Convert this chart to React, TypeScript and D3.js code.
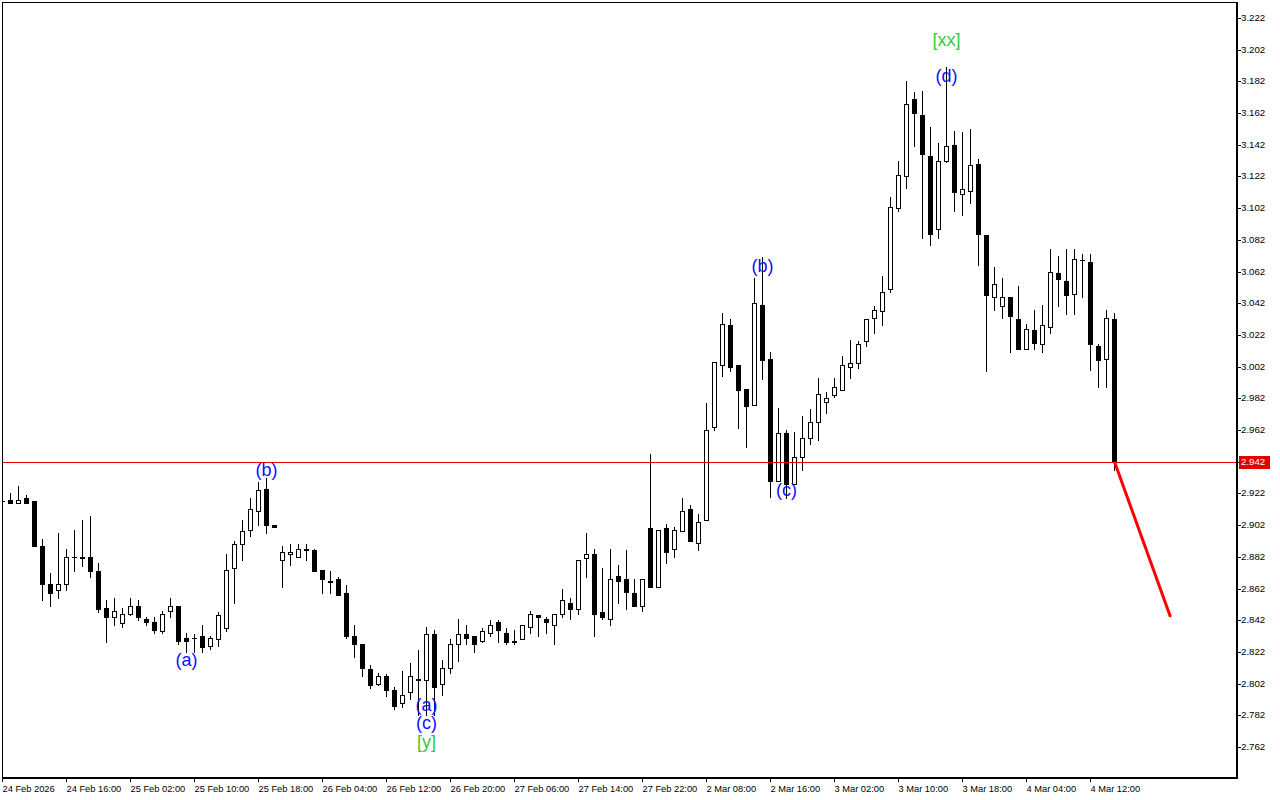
import React from "react";
import * as d3 from "d3";

const opens = [2.917,2.918,2.916,2.919,2.917,2.889,2.865,2.861,2.865,2.882,2.882,2.882,2.873,2.850,2.844,2.840,2.846,2.851,2.843,2.841,2.835,2.848,2.851,2.831,2.831,2.832,2.826,2.830,2.837,2.875,2.890,2.899,2.911,2.925,2.902,2.880,2.884,2.882,2.887,2.886,2.874,2.867,2.868,2.859,2.832,2.827,2.811,2.802,2.807,2.798,2.790,2.797,2.805,2.804,2.833,2.802,2.812,2.827,2.833,2.832,2.829,2.834,2.841,2.834,2.829,2.830,2.838,2.845,2.843,2.839,2.846,2.853,2.849,2.881,2.884,2.847,2.843,2.870,2.868,2.859,2.851,2.900,2.863,2.900,2.887,2.898,2.912,2.891,2.905,2.964,3.003,3.028,3.003,2.988,2.978,3.041,3.007,2.930,2.960,2.928,2.945,2.957,2.967,2.980,2.984,2.987,3.002,3.004,3.018,3.033,3.037,3.051,3.102,3.122,3.171,3.161,3.135,3.089,3.132,3.142,3.111,3.113,3.130,3.085,3.046,3.040,3.046,3.032,3.013,3.025,3.016,3.027,3.061,3.056,3.048,3.069,3.068,3.015,3.007,3.032];
const highs = [2.918,2.922,2.927,2.921,2.917,2.893,2.872,2.897,2.887,2.899,2.905,2.908,2.878,2.855,2.856,2.850,2.856,2.855,2.844,2.844,2.848,2.856,2.851,2.834,2.833,2.839,2.832,2.847,2.884,2.892,2.905,2.919,2.929,2.932,2.902,2.889,2.890,2.890,2.890,2.887,2.874,2.873,2.869,2.864,2.839,2.827,2.814,2.809,2.808,2.800,2.810,2.815,2.823,2.838,2.836,2.817,2.830,2.843,2.839,2.832,2.837,2.842,2.842,2.837,2.836,2.839,2.848,2.845,2.844,2.846,2.862,2.856,2.880,2.897,2.887,2.875,2.887,2.877,2.886,2.868,2.868,2.947,2.899,2.903,2.901,2.919,2.915,2.909,2.979,3.005,3.036,3.032,3.003,2.988,3.058,3.071,3.011,2.976,2.962,2.961,2.971,2.975,2.995,2.986,2.995,3.009,3.019,3.018,3.032,3.040,3.059,3.109,3.132,3.182,3.175,3.176,3.153,3.143,3.191,3.151,3.150,3.152,3.133,3.085,3.065,3.058,3.046,3.053,3.029,3.038,3.041,3.076,3.072,3.076,3.076,3.073,3.073,3.016,3.038,3.036];
const lows = [2.916,2.916,2.916,2.916,2.889,2.855,2.851,2.856,2.861,2.873,2.876,2.869,2.847,2.828,2.839,2.838,2.845,2.842,2.839,2.834,2.834,2.844,2.827,2.822,2.822,2.822,2.824,2.826,2.835,2.853,2.880,2.895,2.902,2.897,2.901,2.863,2.877,2.882,2.880,2.873,2.859,2.859,2.858,2.831,2.819,2.807,2.799,2.801,2.794,2.786,2.787,2.792,2.782,2.782,2.782,2.795,2.809,2.816,2.827,2.822,2.828,2.832,2.828,2.827,2.827,2.830,2.834,2.832,2.834,2.827,2.844,2.843,2.846,2.869,2.832,2.843,2.839,2.853,2.849,2.851,2.848,2.863,2.863,2.878,2.882,2.898,2.892,2.886,2.905,2.962,2.996,2.999,2.963,2.951,2.978,2.994,2.920,2.930,2.919,2.928,2.937,2.953,2.956,2.973,2.983,2.987,2.995,3.001,3.015,3.023,3.028,3.049,3.100,3.115,3.141,3.083,3.079,3.083,3.131,3.100,3.098,3.105,3.066,2.999,3.038,3.033,3.011,3.013,3.013,3.013,3.011,3.023,3.040,3.035,3.035,3.046,3.000,2.989,2.989,2.937];
const closes = [2.917,2.916,2.918,2.916,2.889,2.865,2.859,2.865,2.882,2.882,2.881,2.873,2.849,2.844,2.848,2.846,2.851,2.844,2.841,2.836,2.846,2.851,2.829,2.829,2.831,2.825,2.831,2.845,2.874,2.890,2.898,2.912,2.924,2.902,2.901,2.885,2.885,2.887,2.886,2.873,2.868,2.866,2.858,2.832,2.827,2.812,2.801,2.807,2.798,2.788,2.795,2.807,2.804,2.833,2.800,2.812,2.827,2.833,2.831,2.827,2.835,2.839,2.836,2.828,2.828,2.839,2.846,2.844,2.841,2.846,2.855,2.849,2.880,2.884,2.846,2.844,2.868,2.867,2.860,2.851,2.868,2.863,2.899,2.885,2.899,2.911,2.892,2.904,2.962,3.005,3.029,3.002,2.987,2.977,3.042,3.006,2.930,2.960,2.928,2.945,2.957,2.967,2.985,2.982,2.989,3.003,3.004,3.016,3.032,3.038,3.049,3.103,3.123,3.168,3.162,3.136,3.086,3.132,3.141,3.112,3.114,3.129,3.086,3.047,3.054,3.046,3.034,3.013,3.026,3.017,3.028,3.062,3.057,3.047,3.070,3.069,3.016,3.006,3.033,2.942];

const timeLabelBars = [0, 8, 16, 24, 32, 40, 48, 56, 64, 72, 80, 88, 96, 104, 112, 120, 128, 136];
const timeLabels = ["24 Feb 2026", "24 Feb 16:00", "25 Feb 02:00", "25 Feb 10:00", "25 Feb 18:00", "26 Feb 04:00", "26 Feb 12:00", "26 Feb 20:00", "27 Feb 06:00", "27 Feb 14:00", "27 Feb 22:00", "2 Mar 08:00", "2 Mar 16:00", "3 Mar 02:00", "3 Mar 10:00", "3 Mar 18:00", "4 Mar 04:00", "4 Mar 12:00"];
const priceTickLabels = ["2.762", "2.782", "2.802", "2.822", "2.842", "2.862", "2.882", "2.902", "2.922", "2.942", "2.962", "2.982", "3.002", "3.022", "3.042", "3.062", "3.082", "3.102", "3.122", "3.142", "3.162", "3.182", "3.202", "3.222"];

const lastPrice = 2.942;
const projectionBars = [139, 146];
const projectionPrices = [2.942, 2.844];

const waveTexts = ["(a)", "(b)", "(a)", "(c)", "[y]", "(b)", "(c)", "(d)", "[xx]"];
const waveBars = [23, 33, 53, 53, 53, 95, 98, 118, 118];
const wavePrices = [2.8169, 2.9368, 2.7885, 2.7771, 2.7652, 3.0655, 2.9241, 3.1853, 3.2081];

export default function App() {
  const W = 1280, H = 800;
  const L = 2, T = 2, R = 1237, B = 778;
  const x = d3.scaleLinear().domain([0, 139]).range([2.5, 1114.5]);
  const y = d3.scaleLinear().domain([2.762, 3.222]).range([747, 18]);
  const axisFont = "'Liberation Sans', Arial, sans-serif";

  const candles = opens.map((o, i) => {
    const c = closes[i], h = highs[i], l = lows[i];
    const cx = x(i);
    const yh = Math.round(y(h)), yl = Math.round(y(l));
    const yo = Math.round(y(o)), yc = Math.round(y(c));
    const top = Math.min(yo, yc), bot = Math.max(yo, yc);
    const els = [];
    els.push(<rect key={"w" + i} x={cx - 0.5} y={yh} width={1} height={Math.max(yl - yh + 1, 1)} fill="#000" />);
    if (bot - top < 1) {
      els.push(<rect key={"b" + i} x={cx - 2.5} y={top} width={5} height={1} fill="#000" />);
    } else if (c > o) {
      els.push(<rect key={"b" + i} x={cx - 2} y={top + 0.5} width={4} height={bot - top} fill="#fff" stroke="#000" strokeWidth={1} />);
    } else {
      els.push(<rect key={"b" + i} x={cx - 2.5} y={top} width={5} height={bot - top + 1} fill="#000" />);
    }
    return <g key={i}>{els}</g>;
  });

  const yLast = Math.round(y(lastPrice));
  const proj = d3.line<number>().x((d, i) => x(projectionBars[i])).y((d) => y(d));

  return (
    <svg width={W} height={H} style={{ position: "fixed", left: 0, top: 0, background: "#fff" }}>
      <rect x={0} y={0} width={W} height={H} fill="#fff" />
      <defs>
        <clipPath id="plotClip"><rect x={L} y={T} width={R - L} height={B - T} /></clipPath>
      </defs>
      <g clipPath="url(#plotClip)" shapeRendering="crispEdges">
        {candles}
        <rect x={L} y={yLast} width={R - L} height={1} fill="#e00000" />
      </g>
      <path d={proj(projectionPrices) || ""} stroke="#ff0000" strokeWidth={3} fill="none" />
      <g shapeRendering="crispEdges">
        <rect x={L + 0.5} y={T + 0.5} width={R - L} height={B - T} fill="none" stroke="#000" strokeWidth={1} />
        <rect x={R - 1} y={T} width={2} height={B - T + 1} fill="#000" />
        <rect x={L} y={B - 1} width={R - L + 1} height={2} fill="#000" />
        {priceTickLabels.map((t, i) => {
          const yy = Math.round(y(+t));
          return <rect key={"pt" + i} x={R} y={yy} width={4} height={1} fill="#000" />;
        })}
        {timeLabelBars.map((b, i) => (
          <rect key={"tt" + i} x={Math.round(x(b) - 0.5)} y={B} width={1} height={4} fill="#000" />
        ))}
      </g>
      {priceTickLabels.map((t, i) => (
        <text key={"pl" + i} x={R + 4} y={Math.round(y(+t))} dy="0.35em" fontFamily={axisFont} fontSize={9.7} fill="#000">{t}</text>
      ))}
      {timeLabels.map((t, i) => (
        <text key={"tl" + i} x={x(timeLabelBars[i])} y={792} fontFamily={axisFont} fontSize={9.3} fill="#000">{t}</text>
      ))}
      <rect x={R + 2} y={yLast - 6} width={31} height={13} fill="#e00000" />
      <text x={R + 4} y={yLast} dy="0.35em" fontFamily={axisFont} fontSize={9.7} fill="#fff">{lastPrice.toFixed(3)}</text>
      {waveTexts.map((t, i) => (
        <text key={"wv" + i} x={x(waveBars[i])} y={y(wavePrices[i])} dy="0.35em" textAnchor="middle"
          fontFamily="'Liberation Sans', Arial, sans-serif" fontSize={18}
          fill={t.startsWith("[") ? "#33cc33" : "#1010ff"}>{t}</text>
      ))}
    </svg>
  );
}
